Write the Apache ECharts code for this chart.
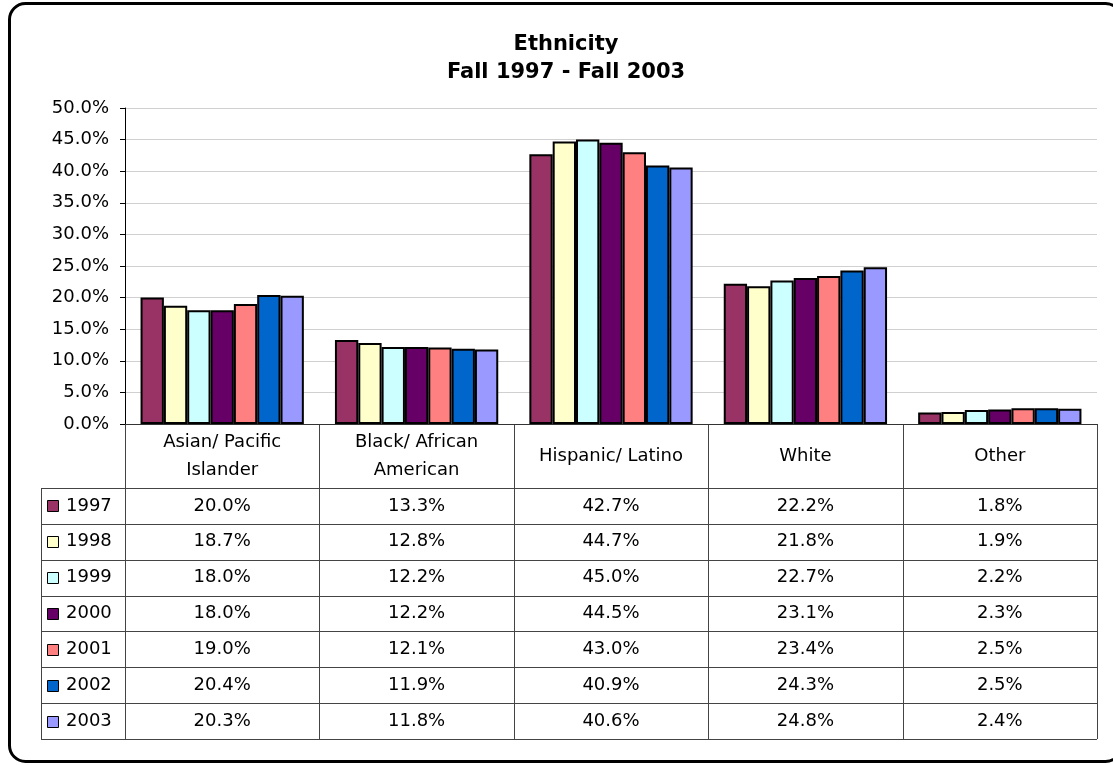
<!DOCTYPE html>
<html><head><meta charset="utf-8">
<script src="https://cdn.jsdelivr.net/npm/echarts@6/dist/echarts.min.js"></script>
<style>html,body{margin:0;padding:0;background:#fff}#c{width:1113px;height:765px}</style>
</head><body><div id="c"></div>
<script>
const titleLines = ['Ethnicity', 'Fall 1997 - Fall 2003'];
const categories = ['Asian/ Pacific\nIslander', 'Black/ African\nAmerican', 'Hispanic/ Latino', 'White', 'Other'];
const years = ['1997', '1998', '1999', '2000', '2001', '2002', '2003'];
const v1997 = [20.0, 13.3, 42.7, 22.2, 1.8];
const v1998 = [18.7, 12.8, 44.7, 21.8, 1.9];
const v1999 = [18.0, 12.2, 45.0, 22.7, 2.2];
const v2000 = [18.0, 12.2, 44.5, 23.1, 2.3];
const v2001 = [19.0, 12.1, 43.0, 23.4, 2.5];
const v2002 = [20.4, 11.9, 40.9, 24.3, 2.5];
const v2003 = [20.3, 11.8, 40.6, 24.8, 2.4];
const seriesValues = [v1997, v1998, v1999, v2000, v2001, v2002, v2003];
const colors = ['#993366', '#FFFFCC', '#CCFFFF', '#660066', '#FF8080', '#0066CC', '#9999FF'];

const FONT = '"DejaVu Sans", "Liberation Sans", Arial, sans-serif';
const chart = echarts.init(document.getElementById('c'), null, {renderer: 'canvas'});

const option = {
  animation: false,
  backgroundColor: '#fff',
  textStyle: {fontFamily: FONT},
  grid: {left: 125, right: 16, top: 108, bottom: 341, containLabel: false},
  xAxis: {
    type: 'category',
    data: categories,
    axisLine: {show: true, lineStyle: {color: '#333', width: 1}},
    axisTick: {show: false},
    axisLabel: {show: false},
    splitLine: {show: false}
  },
  yAxis: {
    type: 'value',
    min: 0, max: 50, interval: 5,
    axisLine: {show: true, lineStyle: {color: '#000', width: 1}},
    axisTick: {show: true, length: 5, lineStyle: {color: '#000'}},
    axisLabel: {
      margin: 16, color: '#000', fontSize: 18, fontFamily: FONT,
      formatter: v => v.toFixed(1) + '%'
    },
    splitLine: {show: true, lineStyle: {color: '#d0d0d0', width: 1}}
  },
  series: years.map((y, i) => ({
    name: y,
    type: 'bar',
    data: seriesValues[i],
    barGap: '0%',
    barCategoryGap: '16%',
    itemStyle: {color: colors[i], borderColor: '#000', borderWidth: 2}
  }))
};
chart.setOption(option);

// Build the data table and title from the axis coordinates
const y0 = chart.convertToPixel({gridIndex: 0}, [0, 0])[1];
const centers = categories.map((c, i) => chart.convertToPixel({gridIndex: 0}, [i, 0])[0]);
const catW = centers[1] - centers[0];
const leftEdge = centers[0] - catW / 2;
const rightEdge = centers[centers.length - 1] + catW / 2;
const legendLeft = 41;
const headerBottom = 488;
const rowH = 35.86;
const tableBottom = headerBottom + rowH * years.length;
const LINE = '#444';
const px = v => Math.round(v) + 0.5;

const g = [];
// border
g.push({type: 'rect', shape: {x: 9.5, y: 3.5, width: 1112, height: 758, r: 16},
  style: {fill: 'none', stroke: '#000', lineWidth: 3}, z: 10});
// title
titleLines.forEach((t, i) => g.push({type: 'text', x: 566, y: 45 + i * 28,
  style: {text: t, font: 'bold 21px ' + FONT, fill: '#000', textAlign: 'center', textVerticalAlign: 'middle'}}));

// horizontal table lines
for (let r = 0; r <= years.length; r++) {
  const yy = px(headerBottom + r * rowH);
  g.push({type: 'line', shape: {x1: legendLeft, y1: yy, x2: rightEdge, y2: yy}, style: {stroke: LINE, lineWidth: 1}});
}
// vertical table lines
g.push({type: 'line', shape: {x1: px(legendLeft), y1: headerBottom, x2: px(legendLeft), y2: tableBottom}, style: {stroke: LINE, lineWidth: 1}});
for (let i = 0; i <= categories.length; i++) {
  const xx = px(leftEdge + i * catW);
  g.push({type: 'line', shape: {x1: xx, y1: y0, x2: xx, y2: tableBottom}, style: {stroke: LINE, lineWidth: 1}});
}
// header labels
categories.forEach((c, i) => g.push({type: 'text', x: centers[i], y: (y0 + headerBottom) / 2,
  style: {text: c, font: '18px ' + FONT, fill: '#000', textAlign: 'center', textVerticalAlign: 'middle', lineHeight: 28}}));
// rows
years.forEach((y, r) => {
  const cy = headerBottom + (r + 0.5) * rowH;
  g.push({type: 'rect', shape: {x: 47.5, y: Math.round(cy - 5.5) + 0.5, width: 11, height: 11},
    style: {fill: colors[r], stroke: '#000', lineWidth: 1}});
  g.push({type: 'text', x: 66, y: cy, style: {text: y, font: '18px ' + FONT, fill: '#000', textAlign: 'left', textVerticalAlign: 'middle'}});
  seriesValues[r].forEach((v, i) => g.push({type: 'text', x: centers[i], y: cy,
    style: {text: v.toFixed(1) + '%', font: '18px ' + FONT, fill: '#000', textAlign: 'center', textVerticalAlign: 'middle'}}));
});
chart.setOption({graphic: {elements: g}});
</script></body></html>
